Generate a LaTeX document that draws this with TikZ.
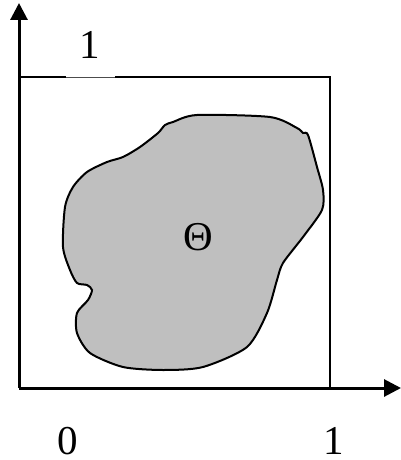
\documentclass[tikz,border=0pt]{standalone}
\usepackage{fontspec}
\setmainfont{Liberation Serif}
\usetikzlibrary{arrows.meta}

\begin{document}
\begin{tikzpicture}[
    x=0.5pt, y=-0.5pt,
    axis/.style={line width=1.5pt,-{Triangle[length=8.5pt,width=8.5pt]}},
    frame/.style={line width=0.75pt},
    region/.style={draw=black,line width=1pt,fill=black!25},
    label/.style={font=\fontsize{20.5}{24}\selectfont,inner sep=0pt}
]
\useasboundingbox (0,0) rectangle (401,460);
% axes
\coordinate (O) at (19,388);
\coordinate (xend) at (401,388);
\coordinate (yend) at (19,3);
% unit square
\coordinate (tl) at (19,77);
\coordinate (tr) at (330,77);
\coordinate (br) at (330,388);
\coordinate (gapl) at (66,77);
\coordinate (gapr) at (115,77);
\draw[frame] (tl) -- (gapl);
\draw[line width=0.35pt,black!70] (gapl) -- (gapr);
\draw[frame] (gapr) -- (tr) -- (br);
% the set Theta
\draw[region] plot[smooth cycle,tension=0.45] coordinates {
    (197,115) (270,117) (297,128) (303,133) (308,135) (317,167)
    (323,190) (322,210) (303,237) (283,263) (277,280) (267,313)
    (247,347) (203,367) (163,370) (123,367) (90,353) (77,333)
    (77,313) (88,300) (92,290) (87,285) (77,283) (70,270)
    (63,247) (65,207) (73,187) (87,172) (107,162) (123,157)
    (140,147) (158,133) (165,125) (173,122)};
\draw[axis] (O) -- (xend);
\draw[axis] (O) -- (yend);
% labels
\node[label] (theta) at (198,237) {Θ};
\node[label] (one top) at (90,45) {1};
\node[label] (zero) at (68,441) {0};
\node[label] (one right) at (334,441) {1};
\end{tikzpicture}
\end{document}
